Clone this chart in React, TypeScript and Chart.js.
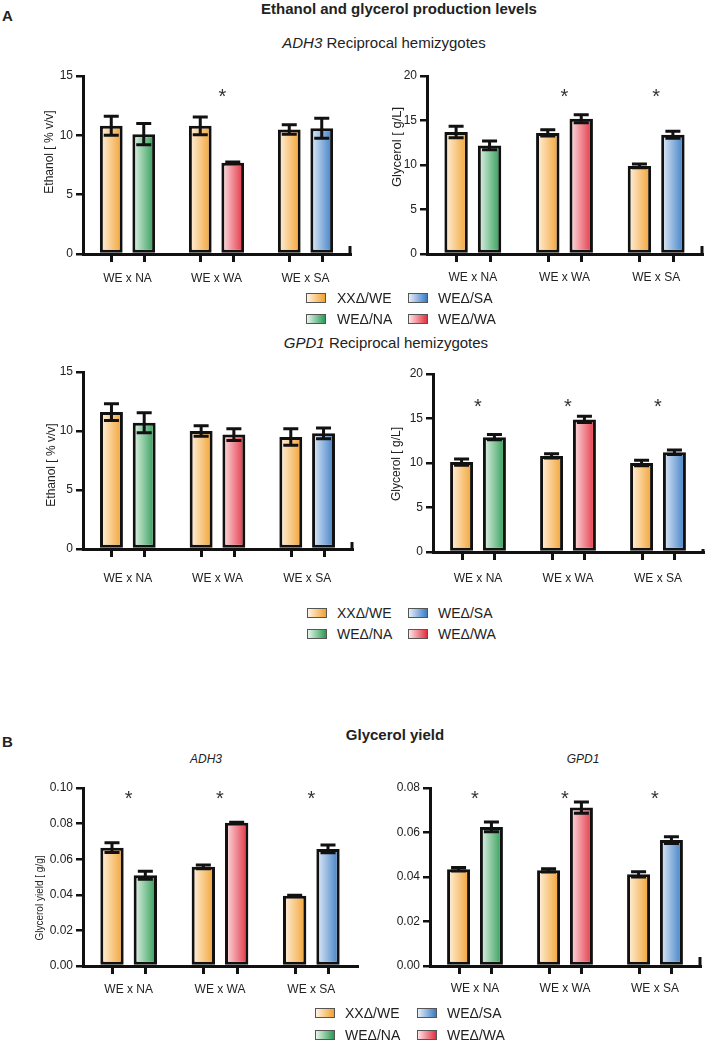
import React, { useEffect, useRef } from 'react';
import { Chart, registerables } from 'chart.js';

Chart.register(...registerables);

// ---------- data ----------
const categories = ['WE x NA', 'WE x WA', 'WE x SA'];
const seriesXX = 'XXΔ/WE';
const seriesPartner = ['WEΔ/NA', 'WEΔ/WA', 'WEΔ/SA'];

const adh3EthanolXX = [10.8, 10.8, 10.5];
const adh3EthanolXXErr = [0.8, 0.75, 0.4];
const adh3EthanolWE = [10.1, 7.7, 10.6];
const adh3EthanolWEErr = [0.9, 0.05, 0.85];
const adh3EthanolSig = [false, true, false];

const adh3GlycerolXX = [13.7, 13.6, 9.9];
const adh3GlycerolXXErr = [0.65, 0.35, 0.2];
const adh3GlycerolWE = [12.2, 15.2, 13.4];
const adh3GlycerolWEErr = [0.5, 0.45, 0.4];
const adh3GlycerolSig = [false, true, true];

const gpd1EthanolXX = [11.6, 10.0, 9.5];
const gpd1EthanolXXErr = [0.7, 0.45, 0.7];
const gpd1EthanolWE = [10.7, 9.7, 9.8];
const gpd1EthanolWEErr = [0.85, 0.5, 0.45];
const gpd1EthanolSig = [false, false, false];

const gpd1GlycerolXX = [10.1, 10.8, 10.0];
const gpd1GlycerolXXErr = [0.35, 0.25, 0.3];
const gpd1GlycerolWE = [12.9, 14.9, 11.2];
const gpd1GlycerolWEErr = [0.3, 0.35, 0.25];
const gpd1GlycerolSig = [true, true, true];

const adh3YieldXX = [0.0665, 0.0557, 0.0395];
const adh3YieldXXErr = [0.0028, 0.001, 0.0003];
const adh3YieldWE = [0.051, 0.0805, 0.0658];
const adh3YieldWEErr = [0.0023, 0.0003, 0.0022];
const adh3YieldSig = [true, true, true];

const gpd1YieldXX = [0.0435, 0.043, 0.0412];
const gpd1YieldXXErr = [0.0008, 0.0007, 0.0012];
const gpd1YieldWE = [0.0625, 0.0712, 0.0566];
const gpd1YieldWEErr = [0.0022, 0.0025, 0.0015];
const gpd1YieldSig = [true, true, true];

// ---------- styles ----------
const FONT = "'Liberation Sans', Arial, Helvetica, sans-serif";
const TEXT = '#222';
const CAT_PCT = 0.73;
const BAR_PCT = 0.7;
const orangeGrad = ['#FFF4E4', '#F2A02E'];
const partnerGrads = [
  ['#E8F5EC', '#2A9A52'],
  ['#FDE4E7', '#E2303F'],
  ['#E5EEF9', '#3A7CC4'],
];

Chart.defaults.font.family = FONT;
Chart.defaults.font.size = 12;
Chart.defaults.color = TEXT;

type Panel = {
  key: string;
  xx: number[]; xxErr: number[];
  we: number[]; weErr: number[];
  sig: boolean[]; sigLevel: number; sigShift: number;
  yMax: number; yStep: number; decimals: number; tickSize: number;
  yTitle: string; titleX: number; titleY: number; titleSize: number;
  canvas: { x: number; y: number; w: number; h: number };
  area: { l: number; t: number; r: number; b: number };
  labelPad: number; endTick: number;
};

const panels: Panel[] = [
  {
    key: 'adh3eth', xx: adh3EthanolXX, xxErr: adh3EthanolXXErr, we: adh3EthanolWE, weErr: adh3EthanolWEErr,
    sig: adh3EthanolSig, sigLevel: 13.7, sigShift: 6, yMax: 15, yStep: 5, decimals: 0, tickSize: 12,
    yTitle: 'Ethanol [ % v/v]', titleX: 50, titleY: 152, titleSize: 12,
    canvas: { x: 0, y: 56, w: 354, h: 244 }, area: { l: 83, t: 76, r: 350, b: 254 },
    labelPad: 17, endTick: 8,
  },
  {
    key: 'adh3gly', xx: adh3GlycerolXX, xxErr: adh3GlycerolXXErr, we: adh3GlycerolWE, weErr: adh3GlycerolWEErr,
    sig: adh3GlycerolSig, sigLevel: 18.3, sigShift: 0, yMax: 20, yStep: 5, decimals: 0, tickSize: 12,
    yTitle: 'Glycerol [ g/L]', titleX: 397, titleY: 147, titleSize: 13,
    canvas: { x: 354, y: 56, w: 354, h: 244 }, area: { l: 427, t: 76, r: 702, b: 254 },
    labelPad: 16, endTick: 8,
  },
  {
    key: 'gpd1eth', xx: gpd1EthanolXX, xxErr: gpd1EthanolXXErr, we: gpd1EthanolWE, weErr: gpd1EthanolWEErr,
    sig: gpd1EthanolSig, sigLevel: 14, sigShift: 0, yMax: 15, yStep: 5, decimals: 0, tickSize: 12,
    yTitle: 'Ethanol [ % v/v]', titleX: 52, titleY: 465, titleSize: 12,
    canvas: { x: 0, y: 352, w: 354, h: 244 }, area: { l: 83, t: 372, r: 352, b: 549 },
    labelPad: 22, endTick: 7,
  },
  {
    key: 'gpd1gly', xx: gpd1GlycerolXX, xxErr: gpd1GlycerolXXErr, we: gpd1GlycerolWE, weErr: gpd1GlycerolWEErr,
    sig: gpd1GlycerolSig, sigLevel: 16.9, sigShift: 0, yMax: 20, yStep: 5, decimals: 0, tickSize: 12,
    yTitle: 'Glycerol [ g/L]', titleX: 397, titleY: 464, titleSize: 12,
    canvas: { x: 354, y: 352, w: 354, h: 244 }, area: { l: 433, t: 374, r: 703, b: 552 },
    labelPad: 19, endTick: 3,
  },
  {
    key: 'adh3yield', xx: adh3YieldXX, xxErr: adh3YieldXXErr, we: adh3YieldWE, weErr: adh3YieldWEErr,
    sig: adh3YieldSig, sigLevel: 0.097, sigShift: 0, yMax: 0.1, yStep: 0.02, decimals: 2, tickSize: 12,
    yTitle: 'Glycerol yield [ g/g]', titleX: 40, titleY: 898, titleSize: 10,
    canvas: { x: 0, y: 768, w: 360, h: 240 }, area: { l: 83, t: 788, r: 357, b: 966 },
    labelPad: 16, endTick: 0,
  },
  {
    key: 'gpd1yield', xx: gpd1YieldXX, xxErr: gpd1YieldXXErr, we: gpd1YieldWE, weErr: gpd1YieldWEErr,
    sig: gpd1YieldSig, sigLevel: 0.0776, sigShift: 0, yMax: 0.08, yStep: 0.02, decimals: 2, tickSize: 12,
    yTitle: '', titleX: 0, titleY: 0, titleSize: 12,
    canvas: { x: 360, y: 768, w: 348, h: 240 }, area: { l: 430, t: 788, r: 700, b: 966 },
    labelPad: 15, endTick: 9,
  },
];

function barFill(c: any, dsIndex: number) {
  const colors = dsIndex === 0 ? orangeGrad : partnerGrads[c.dataIndex ?? 0];
  const chart = c.chart;
  const area = chart.chartArea;
  const xs = chart.scales && chart.scales.x;
  if (!area || !xs || c.dataIndex === undefined) return colors[1];
  const center = xs.getPixelForValue(c.dataIndex);
  const w = (area.right - area.left) / categories.length;
  const size = w * CAT_PCT;
  const chunk = size / 2;
  const bc = center - size / 2 + chunk * dsIndex + chunk / 2;
  const bw = chunk * BAR_PCT;
  const g = chart.ctx.createLinearGradient(bc - bw / 2, 0, bc + bw / 2, 0);
  g.addColorStop(0, colors[0]);
  g.addColorStop(1, colors[1]);
  return g;
}

function PanelChart({ p }: { p: Panel }) {
  const ref = useRef<HTMLCanvasElement>(null);
  useEffect(() => {
    if (!ref.current) return;
    const yWidth = p.area.l - p.canvas.x;
    const xHeight = p.canvas.y + p.canvas.h - p.area.b;
    const errs = [p.xxErr, p.weErr];
    const vals = [p.xx, p.we];

    const decor = {
      id: 'decor',
      afterDatasetsDraw(chart: any) {
        const ctx = chart.ctx;
        const ys = chart.scales.y;
        ctx.save();
        ctx.strokeStyle = '#111';
        ctx.lineWidth = 3;
        ctx.lineCap = 'butt';
        for (let d = 0; d < 2; d++) {
          const meta = chart.getDatasetMeta(d);
          meta.data.forEach((el: any, i: number) => {
            const v = vals[d][i];
            const e = errs[d][i];
            const y1 = ys.getPixelForValue(v + e);
            const y2 = ys.getPixelForValue(v - e);
            ctx.beginPath();
            ctx.moveTo(el.x, y1 - 1.5);
            ctx.lineTo(el.x, y2 + 1.5);
            ctx.moveTo(el.x - 7.5, y1);
            ctx.lineTo(el.x + 7.5, y1);
            ctx.moveTo(el.x - 7.5, y2);
            ctx.lineTo(el.x + 7.5, y2);
            ctx.stroke();
          });
        }
        ctx.restore();
      },
      afterDraw(chart: any) {
        const ctx = chart.ctx;
        const area = chart.chartArea;
        const ys = chart.scales.y;
        ctx.save();
        ctx.strokeStyle = '#111';
        ctx.lineWidth = 3;
        for (let d = 0; d < 2; d++) {
          const meta = chart.getDatasetMeta(d);
          meta.data.forEach((el: any) => {
            ctx.beginPath();
            ctx.moveTo(Math.round(el.x) + 0.5, area.bottom);
            ctx.lineTo(Math.round(el.x) + 0.5, area.bottom + 8);
            ctx.stroke();
          });
        }
        if (p.endTick > 0) {
          ctx.beginPath();
          ctx.moveTo(area.right, area.bottom);
          ctx.lineTo(area.right, area.bottom - p.endTick);
          ctx.stroke();
        }
        // asterisks
        ctx.fillStyle = '#333';
        ctx.font = `20px ${FONT}`;
        ctx.textAlign = 'center';
        ctx.textBaseline = 'alphabetic';
        const m0 = chart.getDatasetMeta(0);
        const m1 = chart.getDatasetMeta(1);
        p.sig.forEach((s, i) => {
          if (!s) return;
          const cx = (m0.data[i].x + m1.data[i].x) / 2 + p.sigShift;
          const cy = ys.getPixelForValue(p.sigLevel);
          ctx.fillText('*', cx, cy + 0.57 * 20);
        });
        // y-axis title
        if (p.yTitle) {
          ctx.save();
          ctx.translate(p.titleX - p.canvas.x, p.titleY - p.canvas.y);
          ctx.rotate(-Math.PI / 2);
          ctx.fillStyle = TEXT;
          ctx.font = `${p.titleSize}px ${FONT}`;
          ctx.textAlign = 'center';
          ctx.textBaseline = 'middle';
          ctx.fillText(p.yTitle, 0, 0);
          ctx.restore();
        }
        ctx.restore();
      },
    };

    const chart = new Chart(ref.current, {
      type: 'bar',
      data: {
        labels: categories,
        datasets: [
          {
            label: seriesXX,
            data: p.xx,
            backgroundColor: (c: any) => barFill(c, 0),
            borderColor: '#111',
            borderWidth: 3,
            borderSkipped: false,
            categoryPercentage: CAT_PCT,
            barPercentage: BAR_PCT,
          },
          {
            label: seriesPartner.join(' / '),
            data: p.we,
            backgroundColor: (c: any) => barFill(c, 1),
            borderColor: '#111',
            borderWidth: 3,
            borderSkipped: false,
            categoryPercentage: CAT_PCT,
            barPercentage: BAR_PCT,
          },
        ],
      },
      options: {
        animation: false,
        responsive: false,
        maintainAspectRatio: false,
        devicePixelRatio: 1,
        layout: {
          padding: {
            left: 0,
            top: p.area.t - p.canvas.y,
            right: p.canvas.x + p.canvas.w - p.area.r,
            bottom: 0,
          },
        },
        plugins: {
          legend: { display: false },
          tooltip: { enabled: false },
          title: { display: false },
        },
        scales: {
          x: {
            type: 'category',
            offset: true,
            grid: { display: true, drawOnChartArea: false, drawTicks: false, color: '#111', lineWidth: 3 },
            border: { display: true, color: '#111', width: 3 },
            ticks: { padding: p.labelPad, color: TEXT, font: { size: 12, family: FONT }, maxRotation: 0, autoSkip: false },
            afterFit: (s: any) => { s.height = xHeight; },
          },
          y: {
            min: 0,
            max: p.yMax,
            grid: { display: true, drawOnChartArea: false, drawTicks: true, tickLength: 7, color: '#111', lineWidth: 2.5 },
            border: { display: true, color: '#111', width: 3 },
            ticks: {
              stepSize: p.yStep,
              padding: 3,
              color: TEXT,
              font: { size: p.tickSize, family: FONT },
              callback: (v: any) => Number(v).toFixed(p.decimals),
            },
            title: { display: false },
            afterFit: (s: any) => { s.width = yWidth; },
          },
        },
      },
      plugins: [decor],
    } as any);
    return () => chart.destroy();
  }, [p]);
  return (
    <canvas
      ref={ref}
      width={p.canvas.w}
      height={p.canvas.h}
      style={{ position: 'absolute', left: p.canvas.x, top: p.canvas.y, width: p.canvas.w, height: p.canvas.h }}
    />
  );
}

type LegendCfg = { rows: number[]; swatchX: number[]; textX: number[] };
const legendItems = [
  { label: seriesXX, colors: orangeGrad, row: 0, col: 0 },
  { label: seriesPartner[2], colors: partnerGrads[2], row: 0, col: 1 },
  { label: seriesPartner[0], colors: partnerGrads[0], row: 1, col: 0 },
  { label: seriesPartner[1], colors: partnerGrads[1], row: 1, col: 1 },
];
const legends: LegendCfg[] = [
  { rows: [298, 319], swatchX: [306, 408], textX: [337, 438] },
  { rows: [613, 634], swatchX: [307, 408], textX: [337, 438] },
  { rows: [1013, 1035], swatchX: [315, 417], textX: [345, 447] },
];

function Legend({ cfg }: { cfg: LegendCfg }) {
  return (
    <>
      {legendItems.map((it) => (
        <React.Fragment key={it.label}>
          <div
            style={{
              position: 'absolute',
              left: cfg.swatchX[it.col],
              top: cfg.rows[it.row] - 5,
              width: 18,
              height: 8,
              border: '1px solid #555',
              background: `linear-gradient(to right, ${it.colors[0]}, ${it.colors[1]})`,
            }}
          />
          <div
            style={{
              position: 'absolute',
              left: cfg.textX[it.col],
              top: cfg.rows[it.row] - 9,
              height: 18,
              lineHeight: '18px',
              fontSize: 14,
              whiteSpace: 'nowrap',
              color: TEXT,
            }}
          >
            {it.label}
          </div>
        </React.Fragment>
      ))}
    </>
  );
}

function Label({ cx, cy, size, bold, children, align }: any) {
  const w = 500;
  const left = align === 'left' ? cx : cx - w / 2;
  return (
    <div
      style={{
        position: 'absolute',
        left,
        top: cy - size * 0.6,
        width: align === 'left' ? undefined : w,
        height: size * 1.2,
        lineHeight: `${size * 1.2}px`,
        fontSize: size,
        fontWeight: bold ? 'bold' : 'normal',
        textAlign: align === 'left' ? 'left' : 'center',
        whiteSpace: 'nowrap',
        color: TEXT,
      }}
    >
      {children}
    </div>
  );
}

export default function App() {
  return (
    <div
      style={{
        position: 'absolute',
        left: 0,
        top: 0,
        width: 708,
        height: 1044,
        background: '#fff',
        fontFamily: FONT,
        overflow: 'hidden',
      }}
    >
      {panels.map((p) => (
        <PanelChart key={p.key} p={p} />
      ))}
      <Label cx={2} cy={16} size={15} bold align="left">A</Label>
      <Label cx={399} cy={9} size={15} bold>Ethanol and glycerol production levels</Label>
      <Label cx={384} cy={43} size={15}><i>ADH3</i> Reciprocal hemizygotes</Label>
      <Label cx={386} cy={343} size={15}><i>GPD1</i> Reciprocal hemizygotes</Label>
      <Label cx={2} cy={742} size={15} bold align="left">B</Label>
      <Label cx={395} cy={735} size={15} bold>Glycerol yield</Label>
      <Label cx={206} cy={759} size={12}><i>ADH3</i></Label>
      <Label cx={583} cy={759} size={12}><i>GPD1</i></Label>
      {legends.map((l, i) => (
        <Legend key={i} cfg={l} />
      ))}
    </div>
  );
}
